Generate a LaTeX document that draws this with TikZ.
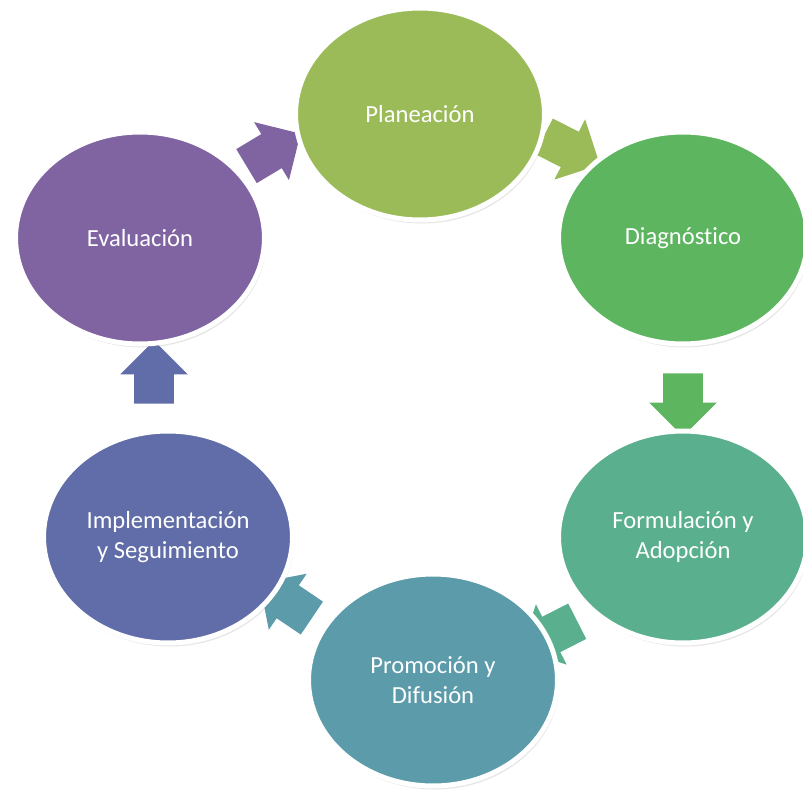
\documentclass[tikz,border=0pt]{standalone}
\usepackage{fontspec}
\setmainfont{Carlito}[Ligatures={NoCommon}]
\usetikzlibrary{shapes.geometric,shapes.arrows,shadows}

\definecolor{cPlan}{RGB}{155,187,89}
\definecolor{cDiag}{RGB}{93,181,96}
\definecolor{cForm}{RGB}{90,176,142}
\definecolor{cProm}{RGB}{91,155,170}
\definecolor{cImpl}{RGB}{96,109,168}
\definecolor{cEval}{RGB}{128,100,162}

\tikzset{
    phase/.style={ellipse, draw=white, line width=0.1cm, minimum width=4.98cm,
        minimum height=4.24cm, text=white, align=center,
        font=\fontsize{14}{17}\selectfont,
        drop shadow={opacity=0.2, shadow xshift=1pt, shadow yshift=-2pt}},
    blockarrow/.style={single arrow, inner sep=0pt, text height=0.78cm, text depth=0pt,
        minimum height=1.26cm, single arrow head extend=0.28cm}
}

\begin{document}
\begin{tikzpicture}[x=0.02cm,y=-0.02cm]
    \useasboundingbox (0,0) rectangle (803,791);
    % arrows go below the ellipses
    \node [blockarrow, fill=cEval, rotate=31]  (evalplan) at (265,155) {};
    \node [blockarrow, fill=cPlan, rotate=-27] (plandiag) at (563,146) {};
    \node [blockarrow, fill=cDiag, rotate=-90] (diagform) at (683,395) {};
    \node [blockarrow, fill=cForm, rotate=207] (formprom) at (558,631) {};
    \node [blockarrow, fill=cProm, rotate=146] (promimpl) at (294,606) {};
    \node [blockarrow, fill=cImpl, rotate=90]  (impleval) at (154,382) {};

    \node [phase, fill=cPlan] (plan) at (420,114) {Planeación};
    \node [phase, fill=cDiag] (diag) at (683,238) {Diagnóstico};
    \node [phase, fill=cForm] (form) at (683,537) {Formulación y\\Adopción};
    \node [phase, fill=cProm] (prom) at (433,680) {Promoción y\\Difusión};
    \node [phase, fill=cImpl] (impl) at (168,537) {Implementación\\y Seguimiento};
    \node [phase, fill=cEval] (eval) at (140,238) {Evaluación};
\end{tikzpicture}
\end{document}
